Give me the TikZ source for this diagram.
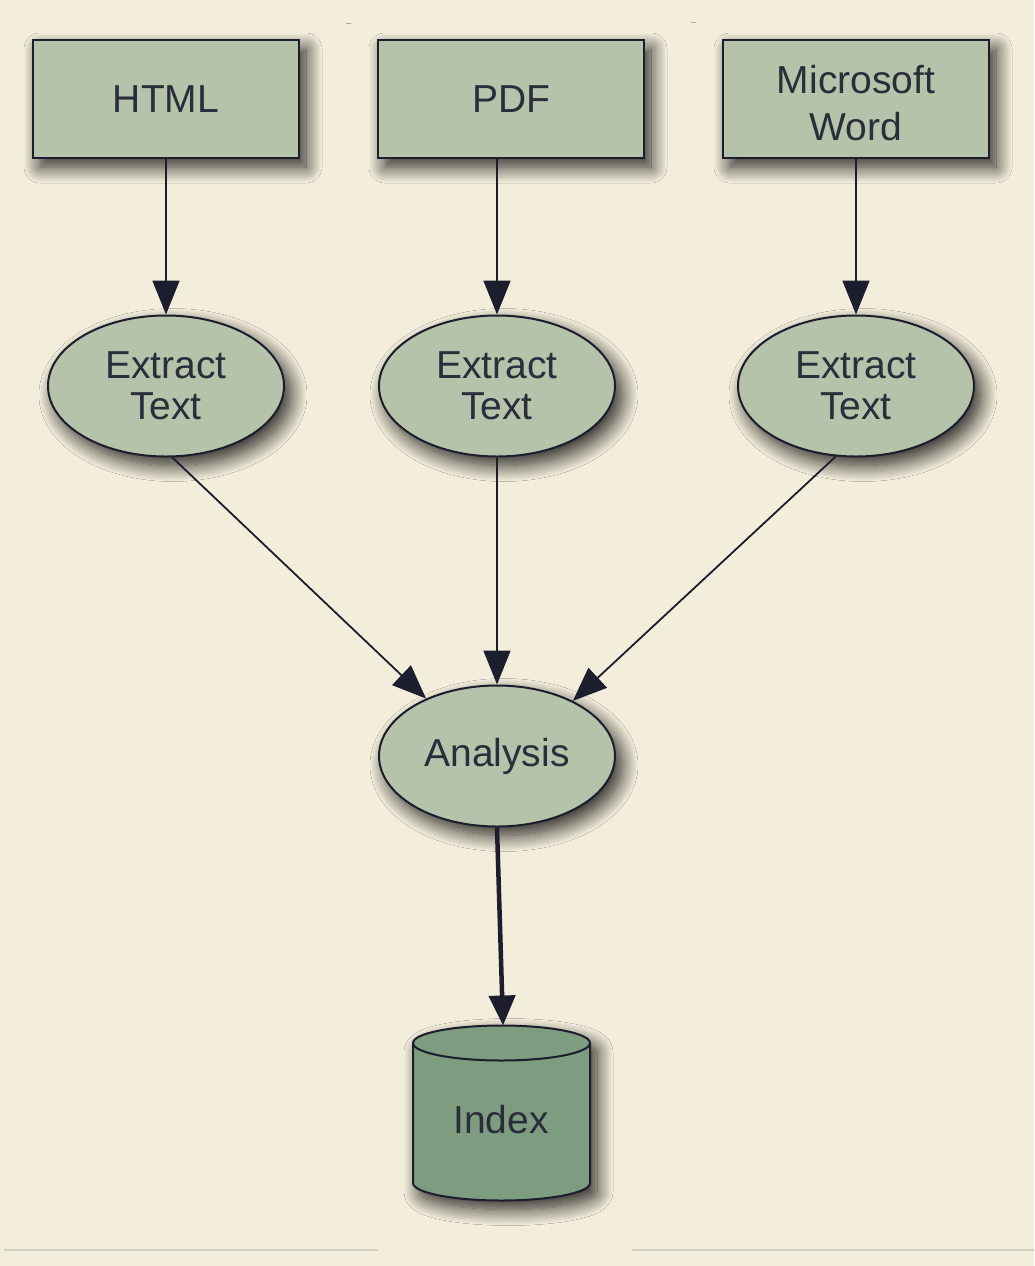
\documentclass[tikz,border=0pt]{standalone}
\usepackage{fontspec}
\setmainfont{Liberation Sans}
\usetikzlibrary{shapes.geometric,arrows.meta,shadows.blur}
\definecolor{bgc}{RGB}{243,238,220}
\definecolor{boxc}{RGB}{180,195,169}
\definecolor{cylc}{RGB}{125,156,128}
\definecolor{edgec}{RGB}{28,30,46}
\definecolor{txtc}{RGB}{42,45,58}
\definecolor{artc}{RGB}{208,206,192}
\tikzset{
  myshadow/.style={blur shadow={shadow xshift=7pt, shadow yshift=-9pt, shadow blur radius=16pt, shadow opacity=85, shadow blur steps=20}},
  docbox/.style={draw=edgec, line width=2pt, fill=boxc, rectangle, minimum width=266pt, minimum height=118pt, inner sep=0pt, text=txtc, font=\fontsize{39}{47}\selectfont, align=center, myshadow},
  procnode/.style={draw=edgec, line width=2pt, fill=boxc, ellipse, minimum width=236pt, minimum height=141pt, inner sep=0pt, text=txtc, font=\fontsize{39}{41}\selectfont, align=center, myshadow},
  flow/.style={draw=edgec, line width=1.8pt, -{Triangle[length=34pt,width=27pt]}},
  bigflow/.style={draw=edgec, line width=4.5pt, -{Triangle[length=30pt,width=26pt]}},
}
\begin{document}
\begin{tikzpicture}[x=1pt,y=1pt]
\fill[bgc] (0,0) rectangle (1034,-1266);
\useasboundingbox (0,0) rectangle (1034,-1266);
% faint artefacts
\draw[artc, line width=1.2pt] (4,-1250) -- (378,-1250);
\draw[artc, line width=1.2pt] (632,-1250) -- (1034,-1250);
\draw[gray!70, line width=1pt] (346,-23) -- (351,-23);
\draw[gray!70, line width=1pt] (691,-22) -- (696,-22);

\node[docbox] (html) at (166,-99) {HTML};
\node[docbox] (pdf) at (511,-99) {PDF};
\node[docbox, text height=83pt] (word) at (856,-99) {Microsoft\\Word};

\node[procnode] (ex1) at (166,-386) {Extract\\Text};
\node[procnode] (ex2) at (497,-386) {Extract\\Text};
\node[procnode] (ex3) at (856,-386) {Extract\\Text};

\node[procnode] (an) at (497,-756) {Analysis};

% cylinder
\path[draw=edgec, line width=2pt, fill=cylc, myshadow]
  (413,-1043) -- (413,-1183) arc[start angle=180, end angle=360, x radius=88.5, y radius=17.5]
  -- (590,-1043) arc[start angle=0, end angle=180, x radius=88.5, y radius=17.5] -- cycle;
\draw[edgec, line width=2pt] (413,-1043) arc[start angle=180, end angle=360, x radius=88.5, y radius=17.5];
\node[text=txtc, font=\fontsize{39}{41}\selectfont, inner sep=0pt] (idx) at (501,-1120) {Index};
\coordinate (idxtop) at (503,-1025.5);

\draw[flow] (html) -- (ex1);
\draw[flow] (ex2 |- pdf.south) -- (ex2);
\draw[flow] (word) -- (ex3);
\draw[flow] (ex1.-85) -- (an.141);
\draw[flow] (ex2) -- (an);
\draw[flow] (ex3.-106) -- (an.36);
\draw[bigflow] (an.south) -- (idxtop);
\end{tikzpicture}
\end{document}
